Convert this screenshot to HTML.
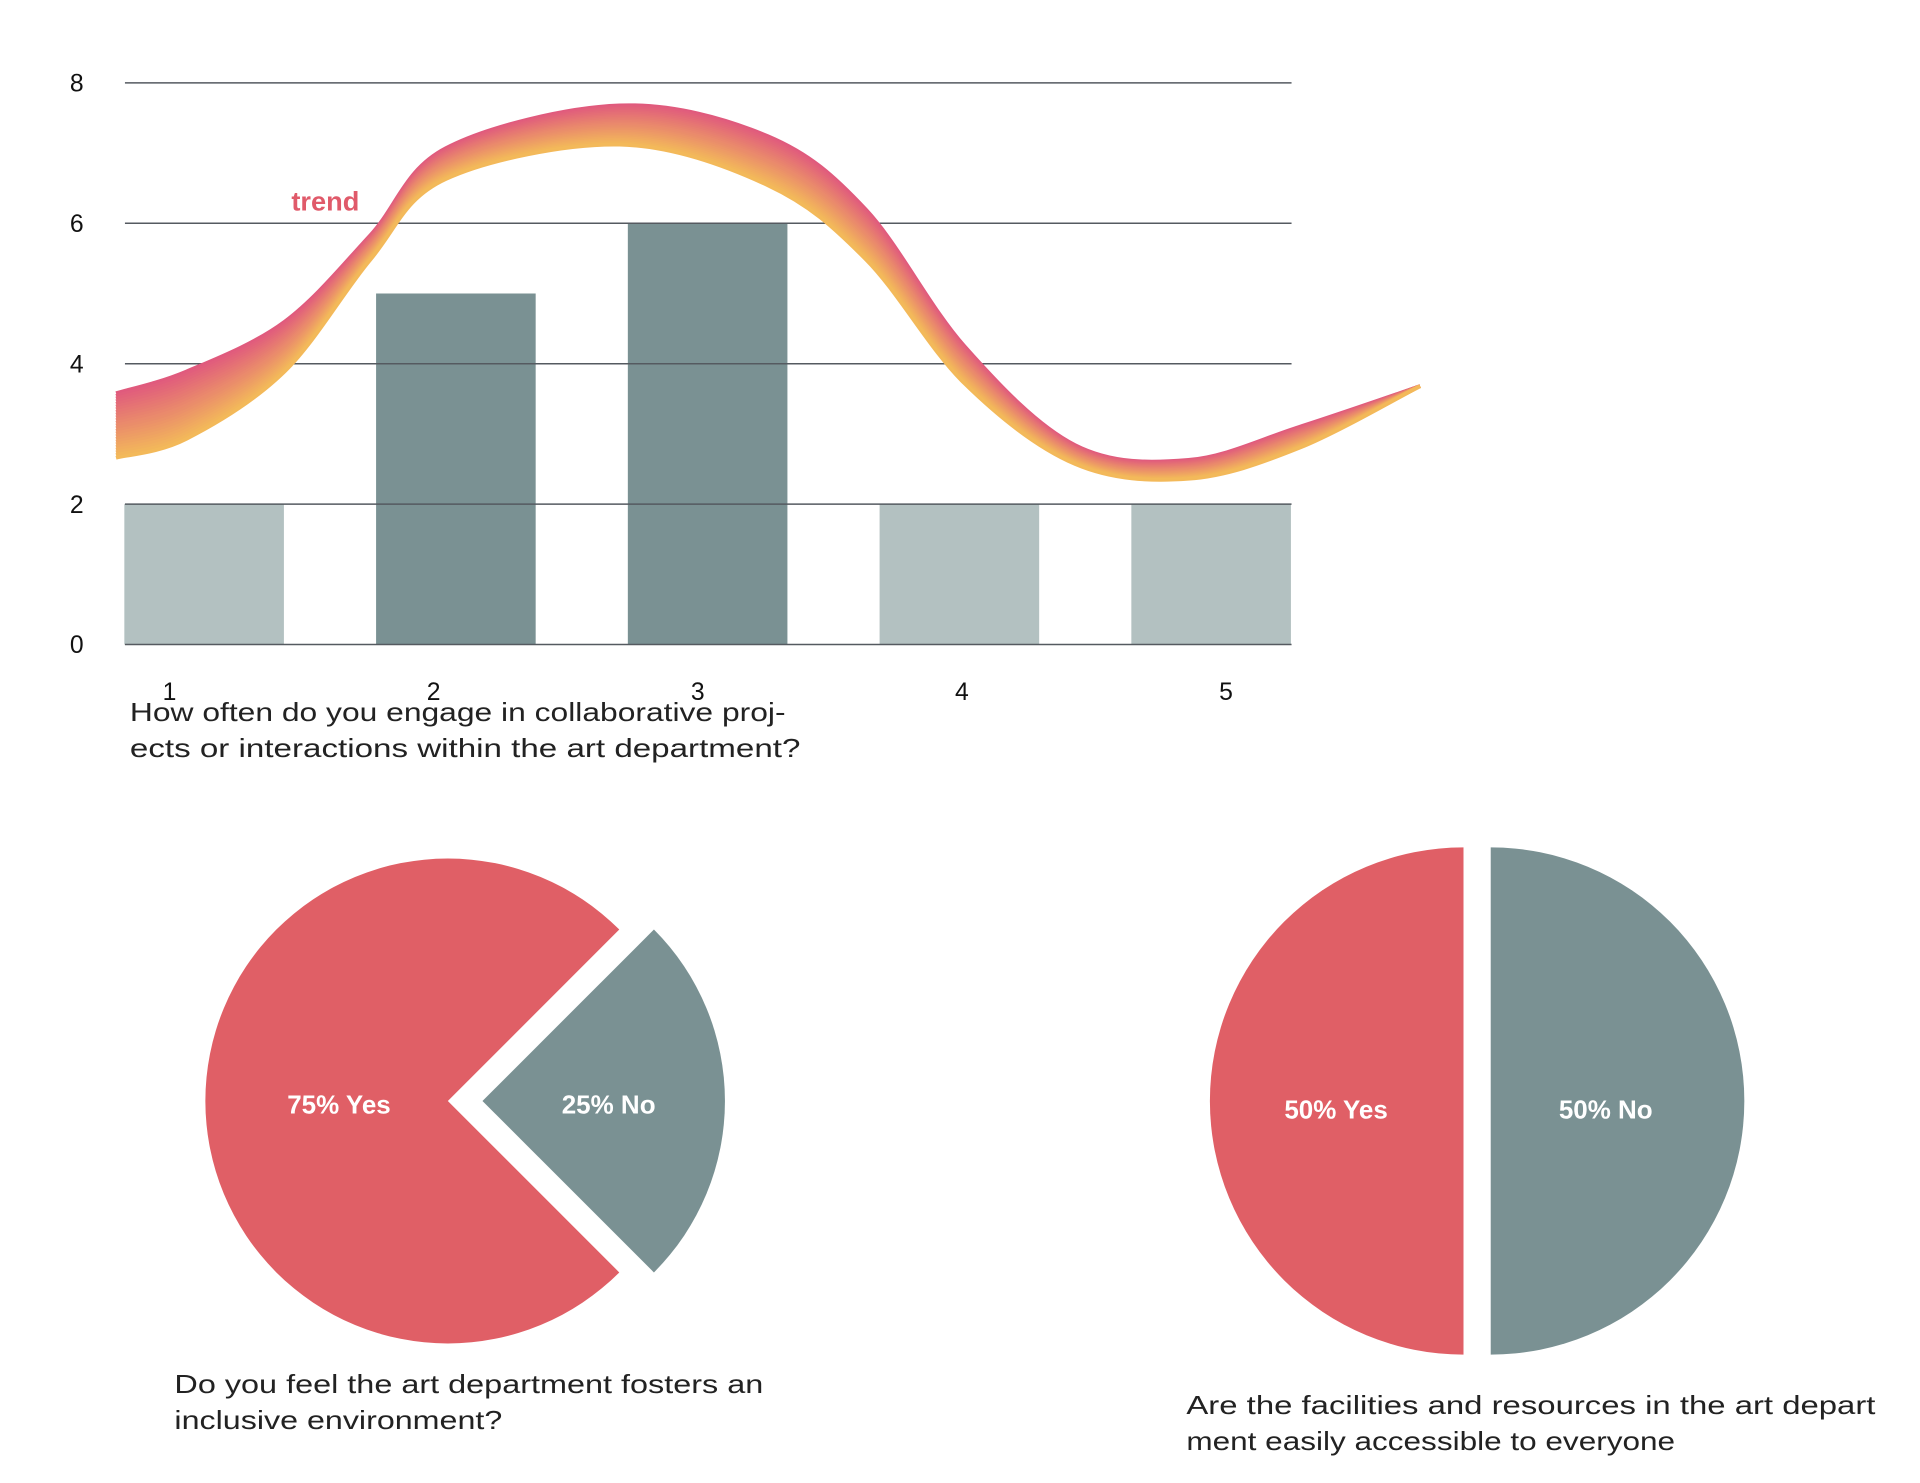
<!DOCTYPE html>
<html><head><meta charset="utf-8"><style>
html,body{margin:0;padding:0;background:#fff;}
svg{display:block;}
text{font-family:"Liberation Sans",sans-serif;}
</style></head><body>
<svg id="chart" width="1920" height="1483" viewBox="0 0 1552 1198.8" preserveAspectRatio="none" xmlns="http://www.w3.org/2000/svg"></svg>
<script>
// ---- bar chart data ----
const categories = [1, 2, 3, 4, 5];
const barValues = [2, 5, 6, 2, 2];
const barHighlight = [false, true, true, false, false];
const yTicks = [0, 2, 4, 6, 8];
// trend band (x in category units, y in value units)
const trendX = [0.65, 0.93, 1.32, 1.66, 1.96, 2.65, 3.24, 3.63, 4.02, 4.46, 4.91, 5.35, 5.83];
const trendTop = [3.58, 3.89, 4.6, 5.83, 7.07, 7.68, 7.24, 6.19, 4.25, 2.84, 2.63, 3.10, 3.68];
const trendBottom = [2.66, 2.93, 3.89, 5.48, 6.63, 7.12, 6.54, 5.48, 3.72, 2.57, 2.36, 2.80, 3.68];
// pies
const pie1Values = [75, 25];
const pie1Labels = ["75% Yes", "25% No"];
const pie2Values = [50, 50];
const pie2Labels = ["50% Yes", "50% No"];

const NS = "http://www.w3.org/2000/svg";
const svg = document.getElementById('chart');
function mk(tag, attrs, parent){const e=document.createElementNS(NS,tag);for(const k in attrs)e.setAttribute(k,attrs[k]);(parent||svg).appendChild(e);return e;}

const x0=101,x1=1044,yBase=521,yPer=56.75;
const yS=v=>yBase-v*yPer;
const xS=c=>165+(c-1)*203.5;
const barW=129;

// bars
barValues.forEach((v,i)=>{
  const r=mk('rect',{x:xS(categories[i])-barW/2,y:yS(v),width:barW,height:v*yPer,fill:barHighlight[i]?'#7a9193':'#b3c1c1'});
  
  
});
// gridlines + y labels
yTicks.forEach(t=>{
  const l=mk('line',{x1:x0,x2:x1,y1:yS(t),y2:yS(t),stroke:'#555a60','stroke-width':1.2});
  
  
  const tx=mk('text',{x:62,y:yS(t)+7,'font-size':20,'text-anchor':'middle',fill:'#111'});
  tx.textContent=t;
  
  
});
// x labels
categories.forEach((c,i)=>{
  const tx=mk('text',{x:xS(c)-28+i*10,y:566,'font-size':20,'text-anchor':'middle',fill:'#111'});
  tx.textContent=c;
  
  
});
// trend band: interpolated strokes
function smooth(pts){
  let d='M'+pts[0][0]+','+pts[0][1];
  for(let i=0;i<pts.length-1;i++){
    const p0=pts[Math.max(0,i-1)],p1=pts[i],p2=pts[i+1],p3=pts[Math.min(pts.length-1,i+2)];
    const c1=[p1[0]+(p2[0]-p0[0])/6,p1[1]+(p2[1]-p0[1])/6];
    const c2=[p2[0]-(p3[0]-p1[0])/6,p2[1]-(p3[1]-p1[1])/6];
    d+=' C'+c1[0]+','+c1[1]+' '+c2[0]+','+c2[1]+' '+p2[0]+','+p2[1];
  }
  return d;
}
const trendG=mk('g',{});


const N=24;
for(let k=0;k<=N;k++){
  const f=k/N;
  const pts=trendX.map((x,i)=>[xS(x),yS(trendTop[i]+(trendBottom[i]-trendTop[i])*f)]);
  const r=Math.round(224+(243-224)*f),g=Math.round(90+(185-90)*f),b=Math.round(125+(90-125)*f);
  mk('path',{d:smooth(pts),fill:'none',stroke:`rgb(${r},${g},${b})`,'stroke-width':3},trendG);
}
const tl=mk('text',{x:263,y:170,'font-size':22,'font-weight':'bold','text-anchor':'middle',fill:'#e05a6a'});
tl.textContent='trend';



function textLines(lines,widths,x,y,lh,name){
  const t=mk('text',{x:x,y:y,'font-size':21,fill:'#222'});
  
  
  lines.forEach((s,i)=>{const ts=mk('tspan',{x:x,y:y+i*lh,textLength:widths[i],lengthAdjust:'spacingAndGlyphs'},t);ts.textContent=s;});
}
textLines(['How often do you engage in collaborative proj-','ects or interactions within the art department?'],[530,542],105,583,29,'bar-chart-question');

// pies
const colors=['#e05f66','#7a9193'];
function pie(values,labels,cx,cy,r,explode,labelPos,name){
  const total=values.reduce((a,b)=>a+b,0);
  const g=mk('g',{});
  
  
  let angles=[];let cur=(values[values.length-1]/total)*Math.PI;
  values.forEach((v,i)=>{
    let s,e;
    if(i===values.length-1){s=-(v/total)*Math.PI;e=(v/total)*Math.PI;}
    else{s=cur;e=cur+(v/total)*2*Math.PI;cur=e;}
    angles.push([s,e]);
  });
  values.forEach((v,i)=>{
    const [s,e]=angles[i];const mid=(s+e)/2;
    const ox=cx+Math.cos(mid)*explode[i],oy=cy+Math.sin(mid)*explode[i];
    const large=(e-s)>Math.PI?1:0;
    const d=`M${ox},${oy} L${ox+r*Math.cos(s)},${oy+r*Math.sin(s)} A${r},${r} 0 ${large} 1 ${ox+r*Math.cos(e)},${oy+r*Math.sin(e)} Z`;
    const p=mk('path',{d:d,fill:colors[i]},g);
    
    
    const t=mk('text',{x:labelPos[i][0],y:labelPos[i][1],'font-size':21,'font-weight':'bold',fill:'#fff','text-anchor':'middle'},g);
    t.textContent=labels[i];
    
    
  });
}
pie(pie1Values,pie1Labels,362,890,196,[0,28],[[274,900],[492,900]],'pie-inclusive');
pie(pie2Values,pie2Labels,1194,890,205,[11,11],[[1080,904],[1298,904]],'pie-accessible');

textLines(['Do you feel the art department fosters an','inclusive environment?'],[476,265],141,1126,29,'pie1-question');
textLines(['Are the facilities and resources in the art depart','ment easily accessible to everyone'],[557,395],959,1143,29,'pie2-question');
</script>
</body></html>
